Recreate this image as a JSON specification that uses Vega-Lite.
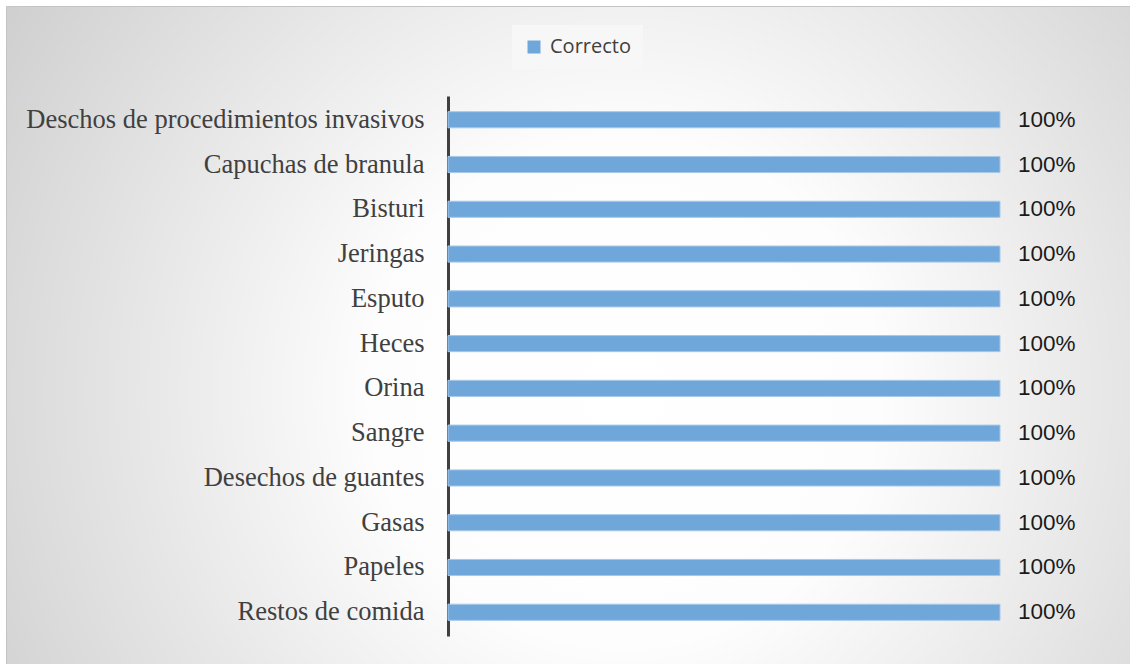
{
  "$schema": "https://vega.github.io/schema/vega-lite/v6.json",
  "width": 1130,
  "height": 664,
  "autosize": {"type": "fit", "contains": "padding"},
  "padding": {"left": 6, "top": 6, "right": 0, "bottom": 0},
  "background": "#ffffff",
  "config": {
    "view": {
      "fill": {"gradient": "radial", "x1": 0.55, "y1": 0.55, "r1": 0, "x2": 0.55, "y2": 0.55, "r2": 0.75,
        "stops": [{"offset": 0, "color": "#ffffff"}, {"offset": 0.3, "color": "#fdfdfd"}, {"offset": 1, "color": "#c4c4c4"}]},
      "stroke": "#c4c4c4",
      "strokeWidth": 1
    }
  },
  "data": {
    "values": [
      {"categoria": "Deschos de procedimientos invasivos", "valor": 1, "serie": "Correcto"},
      {"categoria": "Capuchas de branula", "valor": 1, "serie": "Correcto"},
      {"categoria": "Bisturi", "valor": 1, "serie": "Correcto"},
      {"categoria": "Jeringas", "valor": 1, "serie": "Correcto"},
      {"categoria": "Esputo", "valor": 1, "serie": "Correcto"},
      {"categoria": "Heces", "valor": 1, "serie": "Correcto"},
      {"categoria": "Orina", "valor": 1, "serie": "Correcto"},
      {"categoria": "Sangre", "valor": 1, "serie": "Correcto"},
      {"categoria": "Desechos de guantes", "valor": 1, "serie": "Correcto"},
      {"categoria": "Gasas", "valor": 1, "serie": "Correcto"},
      {"categoria": "Papeles", "valor": 1, "serie": "Correcto"},
      {"categoria": "Restos de comida", "valor": 1, "serie": "Correcto"}
    ]
  },
  "encoding": {
    "y": {
      "field": "categoria", "type": "nominal", "sort": null,
      "scale": {"range": [90, 630], "paddingInner": 0.64, "paddingOuter": 0.35},
      "axis": {
        "title": null, "offset": -442, "ticks": false, "labelPadding": 24,
        "labelFont": "Liberation Serif", "labelFontSize": 26.5, "labelColor": "#404040",
        "labelLimit": 600, "domainColor": "#404040", "domainWidth": 3, "grid": false
      }
    },
    "x": {
      "field": "valor", "type": "quantitative",
      "scale": {"domain": [0, 1], "range": [442, 994], "zero": false},
      "axis": null
    }
  },
  "layer": [
    {
      "mark": {"type": "bar", "stroke": "#a7c8e8", "strokeWidth": 1},
      "encoding": {
        "color": {
          "field": "serie", "type": "nominal",
          "scale": {"range": ["#6fa7db"]},
          "legend": {
            "title": null, "orient": "none", "legendX": 506, "legendY": 19,
            "symbolType": "square", "symbolSize": 169, "symbolStrokeWidth": 0,
            "labelFont": "Open Sans", "labelFontSize": 20, "labelColor": "#404040",
            "labelOffset": 6, "padding": 12, "fillColor": "#f7f7f7"
          }
        }
      }
    },
    {
      "mark": {"type": "text", "align": "left", "baseline": "middle", "dx": 18, "font": "Liberation Sans", "fontSize": 22.5, "color": "#1a1a1a"},
      "encoding": {
        "text": {"field": "valor", "type": "quantitative", "format": ".0%"}
      }
    }
  ]
}
